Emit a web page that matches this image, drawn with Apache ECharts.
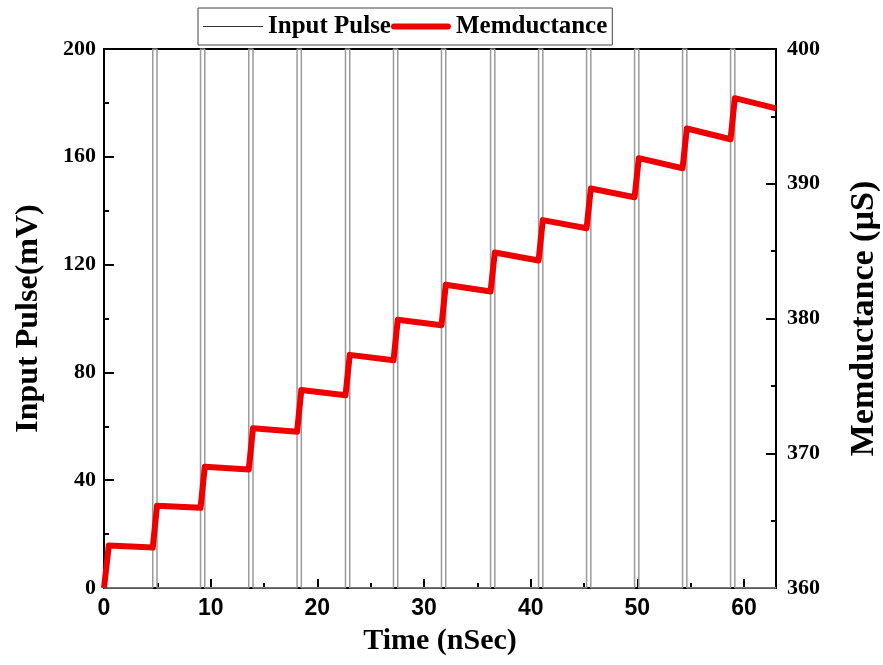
<!DOCTYPE html>
<html><head><meta charset="utf-8">
<script src="https://cdn.jsdelivr.net/npm/echarts@6/dist/echarts.min.js"></script>
<style>html,body{margin:0;padding:0;background:#fff;overflow:hidden}#c{width:883px;height:665px}</style>
</head><body><div id="c"></div>
<script>
// Pulse start/end times (nSec) and amplitude (mV)
var pulseStart = [4.57, 9.05, 13.57, 18.1, 22.64, 27.14, 31.64, 36.24, 40.74, 45.24, 49.74, 54.24, 58.74];
var pulseEnd   = [4.97, 9.45, 13.97, 18.5, 23.04, 27.54, 32.04, 36.64, 41.14, 45.64, 50.14, 54.64, 59.14];
var pulseAmp = 200;
// Memductance (uS) vs time (nSec)
var memTime = [0, 0.45, 4.57, 4.97, 9.05, 9.45, 13.57, 13.97, 18.1, 18.5, 22.64, 23.04, 27.14, 27.54, 31.64, 32.04, 36.24, 36.64, 40.74, 41.14, 45.24, 45.64, 49.74, 50.14, 54.24, 54.64, 58.74, 59.14, 63];
var memValue = [360, 363.15, 363.0, 366.1, 365.95, 369.0, 368.8, 371.85, 371.6, 374.7, 374.3, 377.3, 376.9, 379.9, 379.5, 382.5, 382.0, 384.9, 384.3, 387.3, 386.7, 389.65, 389.0, 391.9, 391.15, 394.1, 393.3, 396.35, 395.6];

var pulseData = [[0, 0]];
for (var i = 0; i < pulseStart.length; i++) {
  pulseData.push([pulseStart[i], 0], [pulseStart[i], pulseAmp], [pulseEnd[i], pulseAmp], [pulseEnd[i], 0]);
}
pulseData.push([63, 0]);
var memData = memTime.map(function (t, i) { return [t, memValue[i]]; });

var serif = 'Liberation Serif';
var chart = echarts.init(document.getElementById('c'));
chart.setOption({
  animation: false,
  grid: { left: 104, right: 107, top: 49, bottom: 77, outerBoundsMode: 'none', containLabel: false,
          show: true, borderColor: '#000', borderWidth: 2, backgroundColor: 'transparent' },
  legend: {
    top: 8, left: 198,
    borderColor: '#444', borderWidth: 1, padding: [6, 5, 6, 5],
    itemGap: 0, itemWidth: 60, itemHeight: 14,
    textStyle: { fontFamily: serif, fontWeight: 'bold', fontSize: 25, color: '#000' },
    data: [
      { name: 'Input Pulse', icon: 'path://M0,0 L60,0 L60,1.2 L0,1.2 Z', itemStyle: { color: '#333' } },
      { name: 'Memductance', icon: 'path://M3,0 L57,0 A3,3 0 0 1 57,6 L3,6 A3,3 0 0 1 3,0 Z', itemStyle: { color: '#ee0000' } }
    ]
  },
  xAxis: {
    type: 'value', min: 0, max: 63, interval: 10,
    name: 'Time (nSec)', nameLocation: 'middle', nameGap: 38,
    nameTextStyle: { fontFamily: serif, fontWeight: 'bold', fontSize: 30, color: '#000' },
    axisLine: { lineStyle: { color: '#000', width: 2 } },
    axisTick: { inside: true, length: 9, lineStyle: { color: '#000', width: 2 } },
    minorTick: { show: true, splitNumber: 2, length: 5, lineStyle: { color: '#000', width: 2 } },
    axisLabel: { fontFamily: 'Liberation Sans', fontWeight: 'bold', fontSize: 23, color: '#000', margin: 9, showMaxLabel: false },
    splitLine: { show: false }
  },
  yAxis: [{
    type: 'value', min: 0, max: 200, interval: 40,
    name: 'Input Pulse(mV)', nameLocation: 'middle', nameGap: 59, nameRotate: 90,
    nameTextStyle: { fontFamily: serif, fontWeight: 'bold', fontSize: 32, color: '#000' },
    axisLine: { show: true, lineStyle: { color: '#000', width: 2 } },
    axisTick: { show: true, inside: true, length: 10, lineStyle: { color: '#000', width: 2 } },
    minorTick: { show: true, splitNumber: 2, length: 5, lineStyle: { color: '#000', width: 2 } },
    axisLabel: { fontFamily: serif, fontWeight: 'bold', fontSize: 22, color: '#000', margin: 8 },
    splitLine: { show: false }
  }, {
    type: 'value', min: 360, max: 400, interval: 10, position: 'right',
    name: 'Memductance (µS)', nameLocation: 'middle', nameGap: 71, nameRotate: 90,
    nameTextStyle: { fontFamily: serif, fontWeight: 'bold', fontSize: 34, color: '#000' },
    axisLine: { show: true, lineStyle: { color: '#000', width: 2 } },
    axisTick: { show: true, inside: true, length: 10, lineStyle: { color: '#000', width: 2 } },
    minorTick: { show: true, splitNumber: 2, length: 5, lineStyle: { color: '#000', width: 2 } },
    axisLabel: { fontFamily: serif, fontWeight: 'bold', fontSize: 22, color: '#000', margin: 11 },
    splitLine: { show: false }
  }],
  series: [{
    name: 'Input Pulse', type: 'line', yAxisIndex: 0, data: pulseData,
    showSymbol: false, symbol: 'none',
    lineStyle: { color: '#9a9a9a', width: 1.5 }, itemStyle: { color: '#9a9a9a' }
  }, {
    name: 'Memductance', type: 'line', yAxisIndex: 1, data: memData,
    showSymbol: false, symbol: 'none', z: 3,
    lineStyle: { color: '#ee0000', width: 6, join: 'round' }, itemStyle: { color: '#ee0000' }
  }]
});
</script></body></html>
